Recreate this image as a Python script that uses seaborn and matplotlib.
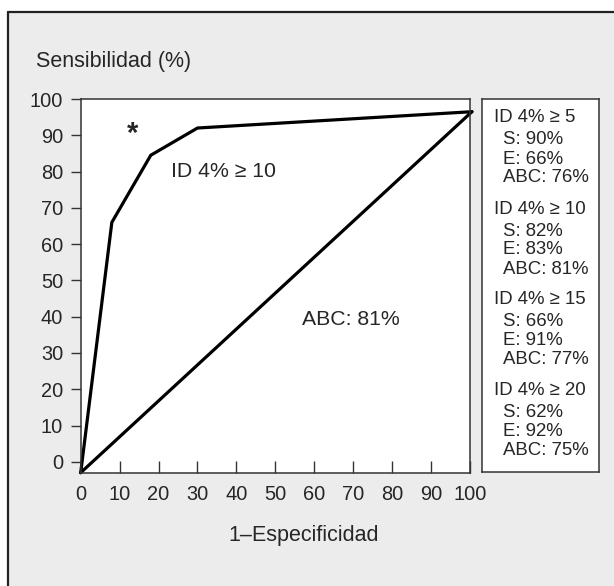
import numpy as np
import pandas as pd
import matplotlib
matplotlib.use("Agg")
import matplotlib.pyplot as plt
from matplotlib.patches import Rectangle
import seaborn as sns

# ============ DATA ============
# ROC curve for ID 4% (cut-off points), plus reference diagonal
roc_fpr = [0, 8, 18, 30, 100.5]
roc_sens = [-3, 66, 84.5, 92, 96.5]
diag_fpr = [0, 100.5]
diag_sens = [-3, 96.5]

x_ticks = list(range(0, 101, 10))
y_ticks = list(range(0, 101, 10))

# side panel: cut-offs with sensitivity, specificity and area under curve
cutoffs = ["ID 4% \u2265 5", "ID 4% \u2265 10", "ID 4% \u2265 15", "ID 4% \u2265 20"]
sens_vals = ["S: 90%", "S: 82%", "S: 66%", "S: 62%"]
spec_vals = ["E: 66%", "E: 83%", "E: 91%", "E: 92%"]
abc_vals = ["ABC: 76%", "ABC: 81%", "ABC: 77%", "ABC: 75%"]

roc_df = pd.DataFrame({"fpr": roc_fpr, "sens": roc_sens})
diag_df = pd.DataFrame({"fpr": diag_fpr, "sens": diag_sens})

# ============ FIGURE ============
sns.set_style("white")
plt.rcParams["font.family"] = ["Liberation Sans", "DejaVu Sans"]

W, H = 614, 586
fig = plt.figure(figsize=(W / 100, H / 100), dpi=100)
fig.patch.set_facecolor("white")

# gray panel with a dark border on the left and top
bg = Rectangle((8 / W, -0.05), 1.0, 1 - 12 / H + 0.05, transform=fig.transFigure,
               facecolor="#ececec", edgecolor="none", zorder=-10)
fig.patches.append(bg)
fig.add_artist(plt.Line2D([8 / W, 8 / W], [0, 1 - 12 / H], transform=fig.transFigure,
                          color="#222222", lw=1.6))
fig.add_artist(plt.Line2D([8 / W, 1], [1 - 12 / H, 1 - 12 / H], transform=fig.transFigure,
                          color="#222222", lw=1.6))


def px_axes(x0, y0, x1, y1):
    return fig.add_axes([x0 / W, 1 - y1 / H, (x1 - x0) / W, (y1 - y0) / H])


ax = px_axes(80.7, 99, 470, 472.7)
ax.set_facecolor("white")

sns.lineplot(data=roc_df, x="fpr", y="sens", sort=False, color="black", lw=2.3,
             ax=ax, clip_on=False)
sns.lineplot(data=diag_df, x="fpr", y="sens", sort=False, color="black", lw=2.3,
             ax=ax, clip_on=False)

ax.set_xlim(0, 100)
ax.set_ylim(-3, 100)
ax.set_xticks(x_ticks)
ax.set_yticks(y_ticks)
ax.set_xlabel("")
ax.set_ylabel("")
ax.tick_params(axis="x", direction="in", length=8.4, width=1.0, color="#333333",
               labelsize=14.4, pad=9)
ax.tick_params(axis="y", direction="out", length=7.2, width=1.0, color="#333333",
               labelsize=14.4, pad=5.5, left=True)
ax.tick_params(axis="x", bottom=True)
for s in ax.spines.values():
    s.set_color("#333333")
    s.set_linewidth(1.1)

ax.text(13.4, 90.5, "*", fontsize=21, fontweight="bold", ha="center", va="center")
ax.text(23.1, 80, "ID 4% \u2265 10", fontsize=15.3, ha="left", va="center")
ax.text(56.9, 39.1, "ABC: 81%", fontsize=15.3, ha="left", va="center")

fig.text(36 / W, 1 - 61.7 / H, "Sensibilidad (%)", fontsize=15.5, ha="left", va="center")
fig.text(304 / W, 1 - 535.4 / H, "1\u2013Especificidad", fontsize=15.5, ha="center", va="center")

# ============ SIDE PANEL ============
box = px_axes(482.3, 99, 599.3, 472.3)
box.set_facecolor("white")
box.set_xlim(0, 117)
box.set_ylim(373.3, 0)
box.set_xticks([])
box.set_yticks([])
for s in box.spines.values():
    s.set_color("#333333")
    s.set_linewidth(1.1)

group_tops = [19, 110, 201, 292]
for g, c, s_, e_, a_ in zip(group_tops, cutoffs, sens_vals, spec_vals, abc_vals):
    box.text(11.7, g, c, fontsize=13.4, ha="left", va="center")
    box.text(20.7, g + 22, s_, fontsize=13.4, ha="left", va="center")
    box.text(20.7, g + 41, e_, fontsize=13.4, ha="left", va="center")
    box.text(20.7, g + 60, a_, fontsize=13.4, ha="left", va="center")

plt.savefig("out.png", dpi=100)
